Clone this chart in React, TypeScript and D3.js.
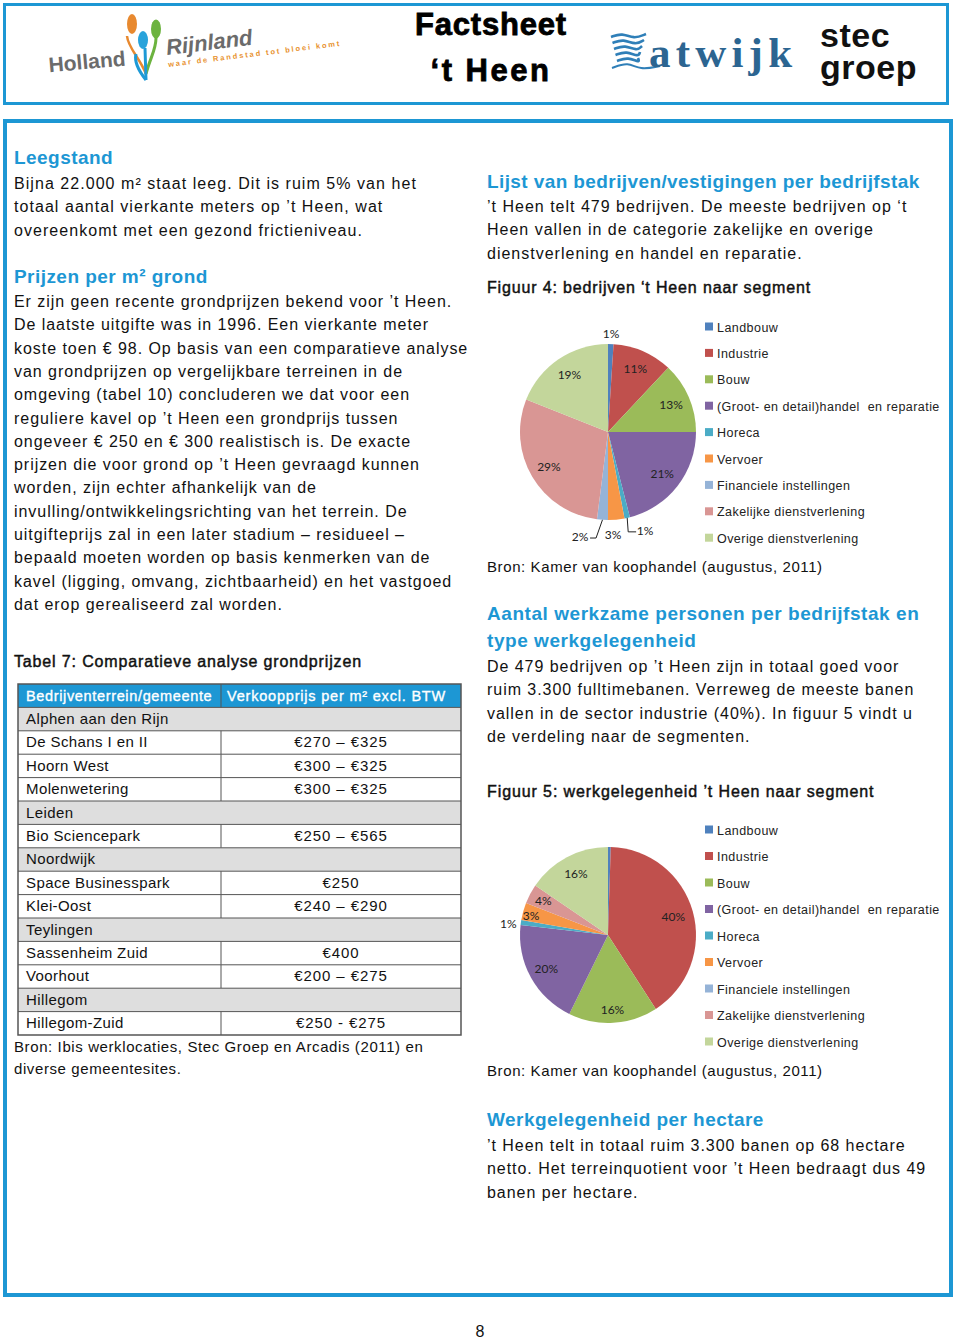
import React from 'react';
import * as d3 from 'd3';

// ---------- DATA ----------
const segments = [
  'Landbouw',
  'Industrie',
  'Bouw',
  '(Groot- en detail)handel  en reparatie',
  'Horeca',
  'Vervoer',
  'Financiele instellingen',
  'Zakelijke dienstverlening',
  'Overige dienstverlening',
];
const segmentColors = ['#4F81BD', '#C0504D', '#9BBB59', '#8064A2', '#4BACC6', '#F79646', '#95B3D7', '#D99694', '#C3D69B'];
const bedrijvenShare = [1, 11, 13, 21, 1, 3, 2, 29, 19];
const bedrijvenLabels = ['1%', '11%', '13%', '21%', '1%', '3%', '2%', '29%', '19%'];
const werkShare = [0.5, 40.4, 16.4, 19.6, 0.9, 3.2, 0, 3.6, 15.5];
const werkLabels = ['', '40%', '16%', '20%', '1%', '3%', '', '4%', '16%'];

const tableHeader = ['Bedrijventerrein/gemeente', 'Verkoopprijs per m² excl. BTW'];
const tableRows: [string, string | null][] = [
  ['Alphen aan den Rijn', null],
  ['De Schans I en II', '€270 – €325'],
  ['Hoorn West', '€300 – €325'],
  ['Molenwetering', '€300 – €325'],
  ['Leiden', null],
  ['Bio Sciencepark', '€250 – €565'],
  ['Noordwijk', null],
  ['Space Businesspark', '€250'],
  ['Klei-Oost', '€240 – €290'],
  ['Teylingen', null],
  ['Sassenheim Zuid', '€400'],
  ['Voorhout', '€200 – €275'],
  ['Hillegom', null],
  ['Hillegom-Zuid', '€250 - €275'],
];

const leftText1 = [
  'Bijna 22.000 m² staat leeg. Dit is ruim 5% van het',
  'totaal aantal vierkante meters op ’t Heen, wat',
  'overeenkomt met een gezond frictieniveau.',
];
const leftText2 = [
  'Er zijn geen recente grondprijzen bekend voor ’t Heen.',
  'De laatste uitgifte was in 1996. Een vierkante meter',
  'koste toen € 98. Op basis van een comparatieve analyse',
  'van grondprijzen op vergelijkbare terreinen in de',
  'omgeving (tabel 10) concluderen we dat voor een',
  'reguliere kavel op ’t Heen een grondprijs tussen',
  'ongeveer € 250 en € 300 realistisch is. De exacte',
  'prijzen die voor grond op ’t Heen gevraagd kunnen',
  'worden, zijn echter afhankelijk van de',
  'invulling/ontwikkelingsrichting van het terrein. De',
  'uitgifteprijs zal in een later stadium – residueel –',
  'bepaald moeten worden op basis kenmerken van de',
  'kavel (ligging, omvang, zichtbaarheid) en het vastgoed',
  'dat erop gerealiseerd zal worden.',
];
const rightText1 = [
  '’t Heen telt 479 bedrijven. De meeste bedrijven op ‘t',
  'Heen vallen in de categorie zakelijke en overige',
  'dienstverlening en handel en reparatie.',
];
const rightText2 = [
  'De 479 bedrijven op ’t Heen zijn in totaal goed voor',
  'ruim 3.300 fulltimebanen. Verreweg de meeste banen',
  'vallen in de sector industrie (40%). In figuur 5 vindt u',
  'de verdeling naar de segmenten.',
];
const rightText3 = [
  '’t Heen telt in totaal ruim 3.300 banen op 68 hectare',
  'netto. Het terreinquotient voor ’t Heen bedraagt dus 49',
  'banen per hectare.',
];

// ---------- LAYOUT ----------
const BLUE = '#1d97d4';
const FONT = '"Liberation Sans", Arial, sans-serif';
const BODY = 16;
const LH = 23.3;
const BODY_LS = 1.05;
const HEAD_LS = 0.45;

// label placement: [radius factor, angle shift deg]
const pie1LabelPos: [number, number][] = [
  [1.11, 0], [0.78, 0], [0.78, 0], [0.78, 0], [1.2, -8], [1.17, 2.6], [1.235, 11.3], [0.78, 0], [0.78, 0],
];
const pie1Leaders = [false, false, false, false, true, false, true, false, false];
const pie2LabelPos: [number, number][] = [
  [1.1, 0], [0.77, 0], [0.85, 0], [0.8, 0], [1.14, -2], [0.9, -1.6], [1, 0], [0.83, 0], [0.78, 0],
];

function Lines({ x, y, lines, size = BODY, lh = LH, color = '#111', weight = 400, stroke = false, ls = BODY_LS }: any) {
  return (
    <g>
      {lines.map((l: string, i: number) => (
        <text
          key={i}
          x={x}
          y={y + i * lh}
          fontFamily={FONT}
          fontSize={size}
          fill={color}
          fontWeight={weight}
          letterSpacing={ls}
          stroke={stroke ? color : 'none'}
          strokeWidth={stroke ? 0.45 : 0}
          style={{ whiteSpace: 'pre' }}
        >
          {l}
        </text>
      ))}
    </g>
  );
}

function Pie({ cx, cy, r, values, labels, labelPos, leaders }: any) {
  const pie = d3.pie<number>().value((d) => d).sort(null);
  const arcs = pie(values);
  const arc = d3.arc<d3.PieArcDatum<number>>().innerRadius(0).outerRadius(r);
  return (
    <g transform={`translate(${cx},${cy})`}>
      {arcs.map((a, i) => (
        <path key={i} d={arc(a) || ''} fill={segmentColors[i]} />
      ))}
      {arcs.map((a, i) => {
        if (!labels[i]) return null;
        const [rf, shift] = labelPos[i];
        const mid = (a.startAngle + a.endAngle) / 2;
        const ang = mid + (shift * Math.PI) / 180;
        const lx = Math.sin(ang) * r * rf;
        const ly = -Math.cos(ang) * r * rf;
        let leader = null;
        if (leaders && leaders[i]) {
          const sx = Math.sin(mid) * r;
          const sy = -Math.cos(mid) * r;
          const right = lx > sx;
          const ex = right ? lx - 9 : lx + 10;
          const elbowX = right ? sx + 1 : lx + 16;
          leader = (
            <polyline
              points={`${sx},${sy} ${elbowX},${ly + 1} ${ex},${ly + 1}`}
              fill="none"
              stroke="#222"
              strokeWidth={1}
            />
          );
        }
        return (
          <g key={'l' + i}>
            {leader}
            <text x={lx} y={ly + 4} textAnchor="middle" fontFamily="Lato, 'Liberation Sans', sans-serif" fontSize={12} fill="#222">
              {labels[i]}
            </text>
          </g>
        );
      })}
    </g>
  );
}

function Legend({ x, y, step }: any) {
  return (
    <g>
      {segments.map((s, i) => (
        <g key={i}>
          <rect x={x} y={y + i * step - 4.5} width={8} height={8} fill={segmentColors[i]} />
          <text x={x + 12} y={y + i * step + 4.5} fontFamily={FONT} fontSize={12.5} letterSpacing={0.45} fill="#222" style={{ whiteSpace: 'pre' }}>
            {s}
          </text>
        </g>
      ))}
    </g>
  );
}

function Table() {
  const x0 = 18;
  const x1 = 461;
  const xm = 221;
  const top = 684;
  const rh = 23.4;
  const n = tableRows.length + 1;
  const yScale = d3.scaleLinear().domain([0, n]).range([top, top + n * rh]);
  return (
    <g fontFamily={FONT}>
      <rect x={x0} y={yScale(0)} width={x1 - x0} height={rh} fill={BLUE} />
      <text x={26} y={yScale(0) + 16.5} fontSize={14.5} letterSpacing={0.65} fill="#fff" stroke="#fff" strokeWidth={0.35}>{tableHeader[0]}</text>
      <text x={227} y={yScale(0) + 16.5} fontSize={14.5} letterSpacing={0.8} fill="#fff" stroke="#fff" strokeWidth={0.35}>{tableHeader[1]}</text>
      {tableRows.map((row, i) => {
        const y = yScale(i + 1);
        const group = row[1] === null;
        return (
          <g key={i}>
            <rect x={x0} y={y} width={x1 - x0} height={rh} fill={group ? '#dedede' : '#fff'} />
            <text x={26} y={y + 16.5} fontSize={15} letterSpacing={0.4} fill="#111">{row[0]}</text>
            {!group && (
              <text x={(xm + x1) / 2} y={y + 16.5} fontSize={15} letterSpacing={0.9} fill="#111" textAnchor="middle">{row[1]}</text>
            )}
            <line x1={x0} x2={x1} y1={y} y2={y} stroke="#555" strokeWidth={1} />
            {!group && <line x1={xm} x2={xm} y1={y} y2={y + rh} stroke="#555" strokeWidth={1} />}
          </g>
        );
      })}
      <line x1={xm} x2={xm} y1={yScale(0)} y2={yScale(1)} stroke="#555" strokeWidth={1} />
      <rect x={x0} y={yScale(0)} width={x1 - x0} height={n * rh} fill="none" stroke="#555" strokeWidth={1.5} />
    </g>
  );
}

function Header() {
  const wave = d3.line().curve(d3.curveBasis);
  const waves = [0, 1, 2, 3, 4].map((k) =>
    wave([
      [611 + k * 1.5, 37 + k * 6],
      [622 + k * 1.5, 33 + k * 6],
      [634 + k * 1.5, 39 + k * 6],
      [646 - k * 2, 34 + k * 6],
    ] as [number, number][])
  );
  const swoosh = wave([
    [612, 68],
    [628, 62],
    [640, 70],
    [660, 66],
  ] as [number, number][]);
  return (
    <g>
      <rect x={4.5} y={4.5} width={943} height={99} fill="#fff" stroke={BLUE} strokeWidth={3} />
      {/* Holland Rijnland logo */}
      <g transform="rotate(-5 120 55)">
        <text x={48} y={66} fontFamily={FONT} fontSize={21} fontWeight={700} fill="#6b6b6b">Holland</text>
      </g>
      <path d="M146 74 C140 58 128 48 127 36" stroke="#e8892f" strokeWidth={2.5} fill="none" />
      <path d="M146 74 C150 58 156 50 156 38" stroke="#6cb33f" strokeWidth={3} fill="none" />
      <path d="M146 80 L145 48" stroke="#1e9ad6" strokeWidth={3} />
      <path d="M146 80 C138 70 134 62 136 54" stroke="#1e9ad6" strokeWidth={3} fill="none" />
      <ellipse cx={132} cy={24} rx={5} ry={10} fill="#e8892f" />
      <ellipse cx={143} cy={40} rx={5} ry={9} fill="#29a3db" />
      <ellipse cx={156} cy={29} rx={5} ry={9.5} fill="#6cb33f" />
      <g transform="rotate(-7 200 45)">
        <text x={166} y={51} fontFamily={FONT} fontSize={22} fontStyle="italic" fontWeight={700} fill="#6b6b6b">Rijnland</text>
        <text x={166} y={63} fontFamily={FONT} fontSize={7.5} fontWeight={700} fill="#e8922f" letterSpacing={1.9}>waar de Randstad tot bloei komt</text>
      </g>
      {/* title */}
      <text x={491} y={35} textAnchor="middle" fontFamily={FONT} fontSize={31} fontWeight={700} letterSpacing={0.8} fill="#000" stroke="#000" strokeWidth={0.8}>Factsheet</text>
      <text x={491} y={81} textAnchor="middle" fontFamily={FONT} fontSize={31} fontWeight={700} letterSpacing={2.5} fill="#000" stroke="#000" strokeWidth={0.8}>‘t Heen</text>
      {/* Katwijk */}
      {waves.map((d, i) => (
        <path key={i} d={d || ''} stroke="#2f7fb8" strokeWidth={2.6} fill="none" />
      ))}
      <path d={swoosh || ''} stroke="#2f7fb8" strokeWidth={2} fill="none" />
      <text x={649} y={67} fontFamily='"Liberation Serif", "DejaVu Serif", serif' fontSize={43} fontWeight={700} fill="#2c6591" letterSpacing={5.2}>atwijk</text>
      {/* stec groep */}
      <text fontFamily={FONT} fontSize={34} fontWeight={700} letterSpacing={0.5} fill="#111">
        <tspan x={820} y={47}>stec</tspan>
        <tspan x={820} y={79}>groep</tspan>
      </text>
    </g>
  );
}

export default function App() {
  return (
    <svg width={960} height={1340} style={{ position: 'absolute', left: 0, top: 0, background: '#fff' }}>
      <rect width={960} height={1340} fill="#fff" />
      <Header />
      <rect x={5} y={121} width={946} height={1174} fill="none" stroke={BLUE} strokeWidth={4} />

      {/* Left column */}
      <Lines x={14} y={164} lines={['Leegstand']} size={19} color={BLUE} weight={700} ls={HEAD_LS} />
      <Lines x={14} y={189} lines={leftText1} />
      <Lines x={14} y={283} lines={['Prijzen per m² grond']} size={19} color={BLUE} weight={700} ls={HEAD_LS} />
      <Lines x={14} y={307} lines={leftText2} ls={0.95} />
      <Lines x={14} y={667} lines={['Tabel 7: Comparatieve analyse grondprijzen']} stroke ls={0.85} />
      <Table />
      <Lines x={14} y={1052} lines={['Bron: Ibis werklocaties, Stec Groep en Arcadis (2011) en', 'diverse gemeentesites.']} size={15} lh={21.5} ls={0.6} />

      {/* Right column */}
      <Lines x={487} y={188} lines={['Lijst van bedrijven/vestigingen per bedrijfstak']} size={19} color={BLUE} weight={700} ls={0.4} />
      <Lines x={487} y={212} lines={rightText1} ls={1.0} />
      <Lines x={487} y={293} lines={['Figuur 4: bedrijven ‘t Heen naar segment']} stroke ls={0.85} />
      <Pie cx={608} cy={432} r={88} values={bedrijvenShare} labels={bedrijvenLabels} labelPos={pie1LabelPos} leaders={pie1Leaders} />
      <Legend x={705} y={327} step={26.4} />
      <Lines x={487} y={572} lines={['Bron: Kamer van koophandel (augustus, 2011)']} size={15} ls={0.6} />

      <Lines x={487} y={620} lines={['Aantal werkzame personen per bedrijfstak en', 'type werkgelegenheid']} size={19} color={BLUE} weight={700} lh={27} ls={0.55} />
      <Lines x={487} y={672} lines={rightText2} ls={0.95} />
      <Lines x={487} y={797} lines={['Figuur 5: werkgelegenheid ’t Heen naar segment']} stroke ls={0.9} />
      <Pie cx={608} cy={935} r={88} values={werkShare} labels={werkLabels} labelPos={pie2LabelPos} />
      <Legend x={705} y={830} step={26.5} />
      <Lines x={487} y={1076} lines={['Bron: Kamer van koophandel (augustus, 2011)']} size={15} ls={0.6} />

      <Lines x={487} y={1126} lines={['Werkgelegenheid per hectare']} size={19} color={BLUE} weight={700} ls={HEAD_LS} />
      <Lines x={487} y={1151} lines={rightText3} ls={0.95} />

      <text x={480} y={1337} textAnchor="middle" fontFamily={FONT} fontSize={16} fill="#111">8</text>
    </svg>
  );
}
